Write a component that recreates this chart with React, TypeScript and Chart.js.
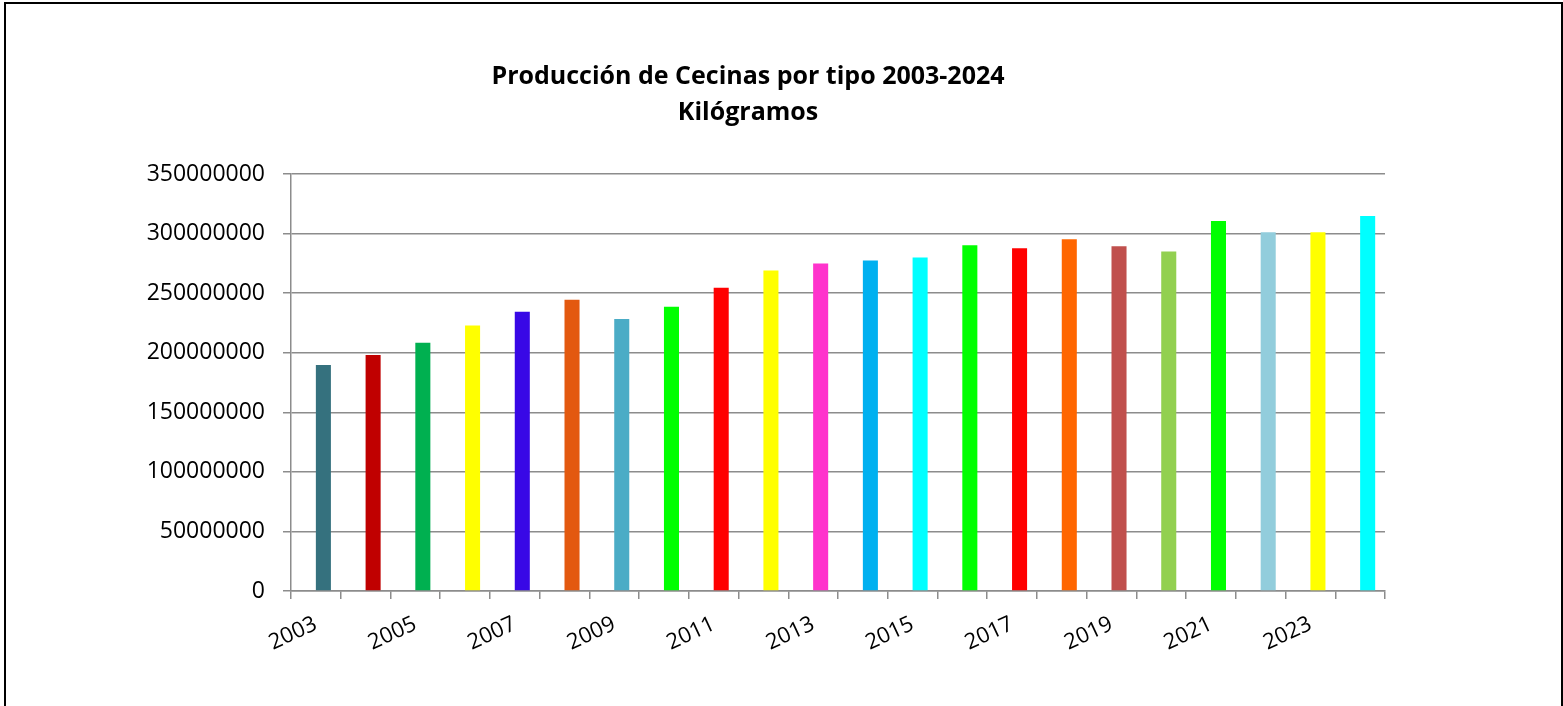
import React, { useEffect, useRef } from "react";
import { Chart, registerables } from "chart.js";

Chart.register(...registerables);

const years: string[] = [
  "2003", "2004", "2005", "2006", "2007", "2008", "2009", "2010", "2011", "2012", "2013",
  "2014", "2015", "2016", "2017", "2018", "2019", "2020", "2021", "2022", "2023", "2024",
];

const production: number[] = [
  189600000, 198000000, 208400000, 222800000, 234300000, 244400000, 228400000, 238500000,
  254500000, 268900000, 274900000, 277400000, 279900000, 290100000, 287600000, 295200000,
  289300000, 285000000, 310500000, 301100000, 301100000, 314700000,
];

const emptySeries: (number | null)[] = years.map(() => null);

const barColors: string[] = [
  "#35717E", "#C00000", "#00B050", "#FFFF00", "#3808E6", "#E3590F", "#4BACC6", "#00FF00",
  "#FF0000", "#FFFF00", "#FF33CC", "#00B0F0", "#00FFFF", "#00FF00", "#FF0000", "#FF6600",
  "#C0504D", "#92D050", "#00FF00", "#92CDDC", "#FFFF00", "#00FFFF",
];

const titleLines: string[] = ["Producción de Cecinas por tipo 2003-2024", "Kilógramos"];

const GRID = "#8c8c8c";

const titlePlugin = {
  id: "fixedTitle",
  afterDraw(chart: any) {
    const ctx = chart.ctx;
    ctx.save();
    ctx.fillStyle = "#000";
    ctx.font = 'bold 25px "Open Sans"';
    ctx.textAlign = "center";
    ctx.textBaseline = "middle";
    ctx.fillText(titleLines[0], 748, 77);
    ctx.fillText(titleLines[1], 748, 113);
    ctx.restore();
  },
};

export default function App() {
  const ref = useRef<HTMLCanvasElement | null>(null);

  useEffect(() => {
    if (!ref.current) return;
    const chart = new Chart(ref.current, {
      type: "bar",
      data: {
        labels: years,
        datasets: [
          {
            label: "vacío",
            data: emptySeries,
            backgroundColor: "#ffffff",
            categoryPercentage: 0.605,
            barPercentage: 1,
          },
          {
            label: "Producción",
            data: production,
            backgroundColor: barColors,
            borderWidth: 0,
            categoryPercentage: 0.605,
            barPercentage: 1,
          },
        ],
      },
      options: {
        responsive: false,
        animation: false,
        layout: { padding: { left: 121, right: 178, top: 174, bottom: 0 } },
        plugins: {
          legend: { display: false },
          title: { display: false },
          tooltip: { enabled: false },
        },
        scales: {
          x: {
            offset: true,
            grid: {
              offset: true,
              drawOnChartArea: false,
              drawTicks: true,
              tickLength: 8,
              color: GRID,
              lineWidth: 1.5,
            },
            border: { color: GRID, width: 1.5 },
            ticks: {
              autoSkip: false,
              maxRotation: 25,
              minRotation: 25,
              padding: 12,
              color: "#000",
              font: { family: '"Open Sans"', size: 22 },
              callback: (_v: any, i: number) => (i % 2 === 0 ? years[i] : ""),
            },
            afterFit: (s: any) => {
              s.height = 115;
            },
          },
          y: {
            min: 0,
            max: 350000000,
            ticks: {
              stepSize: 50000000,
              padding: 18,
              color: "#000",
              font: { family: '"Open Sans"', size: 23 },
              callback: (v: any) => String(v),
            },
            grid: { color: GRID, lineWidth: 1.5, tickLength: 8 },
            border: { color: GRID, width: 1.5 },
            afterFit: (s: any) => {
              s.width = 170;
            },
          },
        },
      },
      plugins: [titlePlugin],
    });
    return () => chart.destroy();
  }, []);

  return (
    <div
      style={{
        position: "absolute",
        left: 0,
        top: 0,
        width: 1563,
        height: 706,
        overflow: "hidden",
        background: "#fff",
      }}
    >
      <canvas ref={ref} width={1563} height={706} style={{ position: "absolute", left: 0, top: 0 }} />
      <div
        style={{
          position: "absolute",
          left: 4,
          top: 2,
          width: 1559,
          height: 720,
          boxSizing: "border-box",
          border: "2px solid #000",
          pointerEvents: "none",
        }}
      />
    </div>
  );
}
